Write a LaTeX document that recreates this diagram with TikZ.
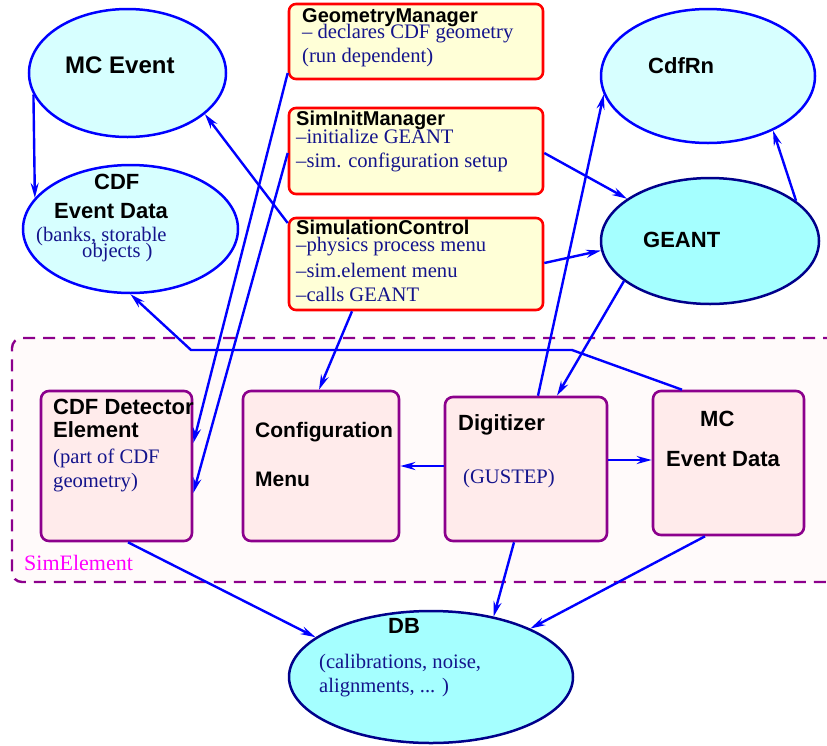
\documentclass[tikz,border=0pt]{standalone}
\usepackage{fontspec}
\setmainfont{Liberation Serif}
\newfontfamily\hv{Liberation Sans}
\usetikzlibrary{shapes.geometric,arrows.meta,calc}
\definecolor{lcyan}{RGB}{215,255,255}
\definecolor{dcyan}{RGB}{165,255,255}
\definecolor{navyb}{RGB}{0,0,139}
\definecolor{lblue}{RGB}{0,0,255}
\definecolor{lyel}{RGB}{255,255,215}
\definecolor{lpink}{RGB}{255,235,235}
\definecolor{regfill}{RGB}{255,250,250}
\definecolor{purp}{RGB}{140,0,140}
\definecolor{txtnavy}{RGB}{20,20,140}
\definecolor{magent}{RGB}{255,0,255}
\begin{document}
\begin{tikzpicture}[x=1pt,y=-1pt,
  ellA/.style={ellipse, draw=lblue, line width=2.5pt, fill=lcyan, inner sep=0pt},
  ellB/.style={ellipse, draw=navyb, line width=2.5pt, fill=dcyan, inner sep=0pt},
  ybox/.style={rectangle, rounded corners=7pt, draw=red, line width=2.6pt, fill=lyel, inner sep=0pt},
  pbox/.style={rectangle, rounded corners=8pt, draw=purp, line width=2.6pt, fill=lpink, inner sep=0pt},
  txt/.style={anchor=base west, inner sep=0pt},
  bt/.style={txt, font=\hv\bfseries\fontsize{22}{26}\selectfont},
  bty/.style={txt, font=\hv\bfseries\fontsize{20}{24}\selectfont},
  st/.style={txt, text=txtnavy, font=\fontsize{20.6}{24}\selectfont},
  arr/.style={draw=lblue, line width=2.4pt, -{Stealth[length=15pt,width=8pt,inset=5pt]}},
  ln/.style={draw=lblue, line width=2.4pt}
]
\useasboundingbox (0,0) rectangle (827,745);
\clip (0,0) rectangle (827,745);

% SimElement region
\node[draw=purp, fill=regfill, line width=2.4pt, dash pattern=on 12pt off 8pt,
      rounded corners=10pt, rectangle, inner sep=0pt,
      minimum width=833pt, minimum height=244pt] (region) at (428.5,460) {};
\node[txt, text=magent, font=\fontsize{22}{26}\selectfont] (lsim) at (24,570) {SimElement};

% ellipses
\node[ellA, minimum width=197pt, minimum height=128pt] (mce) at (127.5,73) {};
\node[ellA, minimum width=215pt, minimum height=128pt] (ced) at (130.5,229) {};
\node[ellA, minimum width=214pt, minimum height=134pt] (cdfrn) at (708,76) {};
\node[ellB, minimum width=218pt, minimum height=126pt] (geant) at (710,241) {};
\node[ellB, minimum width=284pt, minimum height=132pt] (db) at (431,677) {};

% yellow boxes
\node[ybox, minimum width=254pt, minimum height=75pt] (gm) at (416,41.5) {};
\node[ybox, minimum width=254pt, minimum height=86pt] (sim) at (416,151) {};
\node[ybox, minimum width=254pt, minimum height=92pt] (sc) at (416,264) {};

% pink boxes
\node[pbox, minimum width=151pt, minimum height=150pt] (cde) at (116.5,466) {};
\node[pbox, minimum width=156pt, minimum height=150pt] (cm) at (321,466) {};
\node[pbox, minimum width=162pt, minimum height=144pt] (dig) at (526,469) {};
\node[pbox, minimum width=151pt, minimum height=144pt] (mced) at (728.5,463) {};

% texts
\node[bt, font=\hv\bfseries\fontsize{24}{28}\selectfont] (tmce) at (65,73) {MC Event};
\node[bt] (tced1) at (94,189) {CDF};
\node[bt] (tced2) at (54,218) {Event Data};
\node[st] (tced3) at (36,241) {(banks, storable};
\node[st] (tced4) at (82,257) {objects )};

\node[bty] (tgm1) at (302,22) {GeometryManager};
\node[st] (tgm2) at (302,38) {– declares CDF geometry};
\node[st] (tgm3) at (302,62) {(run dependent)};

\node[bty] (tsim1) at (296,125) {SimInitManager};
\node[st] (tsim2) at (296,143) {–initialize GEANT};
\node[st] (tsim3) at (296,167) {–sim. configuration setup};

\node[bty] (tsc1) at (296,234) {SimulationControl};
\node[st] (tsc2) at (296,251) {–physics process menu};
\node[st] (tsc3) at (296,277) {–sim.element menu};
\node[st] (tsc4) at (296,301) {–calls GEANT};

\node[bt] (tcdfrn) at (648,73) {CdfRn};
\node[bt] (tgeant) at (643,247) {GEANT};

\node[bt] (tcde1) at (53,414) {CDF Detector};
\node[bt] (tcde2) at (53,437) {Element};
\node[st] (tcde3) at (53,463) {(part of CDF};
\node[st] (tcde4) at (53,487) {geometry)};

\node[bt, font=\hv\bfseries\fontsize{21}{25}\selectfont] (tcm1) at (255,437) {Configuration};
\node[bt, font=\hv\bfseries\fontsize{21}{25}\selectfont] (tcm2) at (255,486) {Menu};

\node[bt] (tdig1) at (458,430) {Digitizer};
\node[st] (tdig2) at (463,483) {(GUSTEP)};

\node[bt] (tmced1) at (700,426) {MC};
\node[bt] (tmced2) at (666,466) {Event Data};

\node[bt] (tdb1) at (388,633) {DB};
\node[st] (tdb2) at (319,668) {(calibrations, noise,};
\node[st] (tdb3) at (319,692) {alignments, ... )};

% connectors
\draw[arr] (mce.193) -- (ced.162);
\draw[arr] (sc.west |- 0,223) -- (mce.332);
\draw[arr] (gm.west |- 0,73) -- (cde.east |- 0,443);
\draw[arr] (sim.west |- 0,153) -- (cde.east |- 0,493);
\draw[arr] (sim.east |- 0,153) -- (geant.153);
\draw[arr] (sc.east |- 0,263) -- (geant.185);
\draw[arr] (geant.25) -- (cdfrn.320);
\draw[arr] (dig.north -| 538,0) -- (cdfrn.190);
\draw[arr] (geant.205) -- (dig.north -| 557,0);
\draw[arr] (sc.south -| 352,0) -- (cm.north -| 319,0);
\coordinate (k1) at (572,350);
\coordinate (k2) at (191,350);
\draw[arr] (mced.north -| 682,0) -- (k1) -- (k2) -- (ced.south);
\draw[arr] (dig.west |- 0,466) -- (cm.east |- 0,466);
\draw[arr] (dig.east |- 0,460) -- (mced.west |- 0,460);
\draw[arr] (cde.south -| 128,0) -- (db.161);
\draw[arr] (dig.south -| 514,0) -- (db.44);
\draw[arr] (mced.south -| 705,0) -- (db.26);
\end{tikzpicture}
\end{document}
